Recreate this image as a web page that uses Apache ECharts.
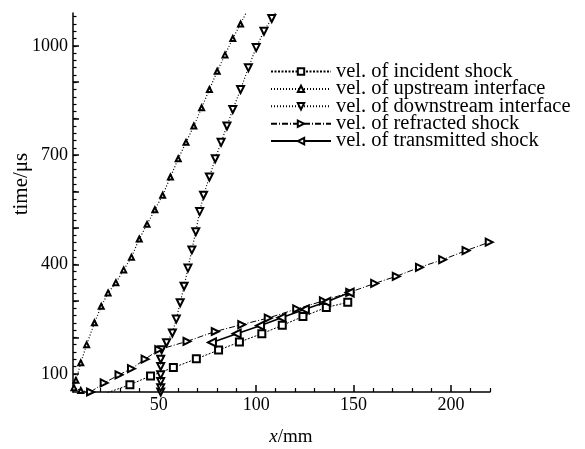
<!DOCTYPE html>
<html>
<head>
<meta charset="utf-8">
<script src="https://cdn.jsdelivr.net/npm/echarts@6/dist/echarts.min.js"></script>
<style>
  html, body { margin: 0; padding: 0; background: #fff; }
  #chart { width: 585px; height: 449px; }
</style>
</head>
<body>
<div id="chart"></div>
<script>
// series names (legend order)
const names = [
  'vel. of incident shock',
  'vel. of upstream interface',
  'vel. of downstream interface',
  'vel. of refracted shock',
  'vel. of transmitted shock'
];

// [x (mm), time (μs)]
const incident = [
  [23.6, 48], [35.2, 70], [45.8, 94], [57.5, 117], [69.3, 141], [80.7, 165],
  [91.4, 187], [102.9, 210], [113.4, 233], [124, 257], [136, 282], [147, 296]
];
const upstream = [
  [15, 48], [10, 54], [6.5, 62], [7.5, 82], [10, 130], [13, 180], [17, 240],
  [20.5, 285], [24, 322], [28, 350], [32, 385], [36, 420], [40, 470], [44, 510],
  [48, 550], [52, 590], [56, 640], [60, 690], [64, 735], [68, 780], [72, 830],
  [76, 880], [80, 930], [84, 975], [88, 1020], [92, 1060], [95, 1092]
];
const downstream = [
  [51, 50], [51, 62], [51, 79], [51, 97], [51, 120], [51, 140], [51.5, 166],
  [54, 185], [57, 212], [59, 250], [61, 295], [63, 340], [65, 390], [67, 440],
  [69, 490], [71, 545], [73, 590], [76, 640], [79, 690], [82, 735], [85, 780],
  [88, 825], [92, 880], [96, 940], [100, 995], [104, 1040], [108, 1075], [110, 1092]
];
const refracted = [
  [15, 50], [22, 75], [29.6, 97], [36, 114], [43, 140], [50, 166], [64.5, 189],
  [79, 216], [92.6, 235], [106.2, 253], [120.8, 278], [134.5, 300], [148, 323.5],
  [160.8, 348], [171.9, 367.5], [183.8, 392], [195.7, 413], [207.7, 438], [219.6, 461]
];
const transmitted = [
  [77.3, 186], [90, 210], [102, 232], [113, 254], [125, 277], [136, 297], [148, 323]
];

// axis ticks
const xLabels = [50, 100, 150, 200];
const xMinor = [10, 20, 30, 40, 60, 70, 80, 90, 110, 120, 130, 140, 160, 170, 180, 190, 210, 220];
const yLabels = [100, 400, 700, 1000];
const yMajor = [100, 200, 300, 400, 500, 600, 700, 800, 900, 1000];
const yMinor = [];
for (let v = 60; v <= 1080; v += 20) yMinor.push(v);

const serif = '"Liberation Serif", "Times New Roman", serif';
const black = '#000';

const chart = echarts.init(document.getElementById('chart'));

function lineSeries(name, data, symbol, rotate, size, lineType, lineWidth) {
  return {
    name: name,
    type: 'line',
    data: data,
    symbol: symbol,
    symbolSize: size,
    symbolRotate: rotate,
    showAllSymbol: true,
    animation: false,
    lineStyle: { color: black, width: lineWidth, type: lineType },
    itemStyle: { color: black, borderColor: black, borderWidth: 1.2 }
  };
}

chart.setOption({
  backgroundColor: '#fff',
  animation: false,
  grid: { left: 73, top: 13, width: 417, height: 379 },
  legend: {
    orient: 'vertical',
    left: 270,
    top: 61,
    padding: 0,
    itemWidth: 60,
    itemHeight: 8,
    itemGap: -3.6,
    data: names,
    textStyle: { fontFamily: serif, fontSize: 20.5, color: black }
  },
  xAxis: [
    {
      type: 'value', min: 6, max: 220,
      axisLine: { show: true, lineStyle: { color: black, width: 1.5 } },
      axisTick: { show: true, inside: true, length: 7, customValues: xLabels, lineStyle: { color: black, width: 1.5 } },
      axisLabel: { customValues: xLabels, fontFamily: serif, fontSize: 18, color: black, margin: 4 },
      splitLine: { show: false }
    },
    {
      type: 'value', min: 6, max: 220, position: 'bottom',
      axisLine: { show: false },
      axisTick: { show: true, inside: true, length: 4, customValues: xMinor, lineStyle: { color: black, width: 1.2 } },
      axisLabel: { show: false },
      splitLine: { show: false }
    }
  ],
  yAxis: [
    {
      type: 'value', min: 50, max: 1090,
      axisLine: { show: true, lineStyle: { color: black, width: 1.5 } },
      axisTick: { show: true, inside: true, length: 6, customValues: yMajor, lineStyle: { color: black, width: 1.5 } },
      axisLabel: {
        customValues: yLabels, fontFamily: serif, fontSize: 18, color: black, margin: 5,
        formatter: (v) => String(v)
      },
      splitLine: { show: false }
    },
    {
      type: 'value', min: 50, max: 1090, position: 'left',
      axisLine: { show: false },
      axisTick: { show: true, inside: true, length: 3.5, customValues: yMinor, lineStyle: { color: black, width: 1.2 } },
      axisLabel: { show: false },
      splitLine: { show: false }
    }
  ],
  graphic: [
    {
      type: 'text', x: 21, y: 184, rotation: Math.PI / 2,
      style: { text: 'time/μs', font: '21px ' + serif, fill: black, align: 'center', verticalAlign: 'middle' }
    },
    {
      type: 'text', x: 291, y: 437,
      style: {
        text: '{i|x}/mm', font: '19px ' + serif, fill: black, align: 'center', verticalAlign: 'middle',
        rich: { i: { fontStyle: 'italic', fontFamily: serif, fontSize: 19 } }
      }
    }
  ],
  series: [
    lineSeries(names[0], incident, 'emptyRect', 0, 7, [2, 1.5], 1),
    lineSeries(names[1], upstream, 'emptyTriangle', 0, 5, [1, 2], 1.2),
    lineSeries(names[2], downstream, 'emptyTriangle', 180, 7, [1, 2], 1.2),
    lineSeries(names[3], refracted, 'emptyTriangle', -90, 7, [6, 2, 1, 2], 1),
    lineSeries(names[4], transmitted, 'emptyTriangle', 90, 8, 'solid', 1.6)
  ]
});
</script>
</body>
</html>
